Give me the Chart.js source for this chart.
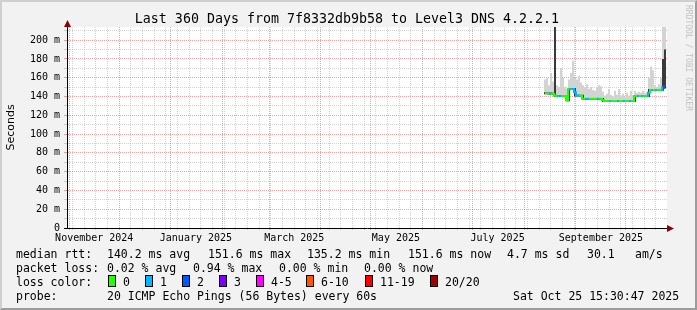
<!DOCTYPE html>
<html>
<head>
<meta charset="utf-8">
<script src="https://cdn.jsdelivr.net/npm/chart.js@4.4.0/dist/chart.umd.min.js"></script>
<style>
  html, body { margin: 0; padding: 0; background: #fff; }
  #graph { position: relative; width: 697px; height: 310px; background: #f2f2f2; overflow: hidden;
           font-family: 'DejaVu Sans Mono', monospace; color: #000; }
  #frame { position: absolute; left: 0; top: 0; width: 697px; height: 310px; box-sizing: border-box;
           border: 2px solid; border-color: #cfcfcf #9c9c9c #9c9c9c #cfcfcf; }
  #graph canvas { position: absolute; left: 0; top: 0; }
  .t { position: absolute; white-space: pre; font-size: 11.5px; line-height: 14px; }
  .box { position: absolute; width: 6px; height: 10px; border: 1px solid #000; }
  #title { position: absolute; left: 0; top: 11px; width: 694px; text-align: center; font-size: 13.3px; line-height: 16px; }
  #mark { position: absolute; left: 683px; top: 5px; writing-mode: vertical-rl; font-size: 8px; line-height: 10px; color: #c2c2c2; }
</style>
</head>
<body>
<div id="graph">
  <div id="frame"></div>
  <canvas id="chart" width="697" height="310"></canvas>
  <div id="title">Last 360 Days from 7f8332db9b58 to Level3 DNS 4.2.2.1</div>
  <div id="mark">RRDTOOL / TOBI OETIKER</div>

  <div class="t" style="left:16px;top:247px">median rtt:</div>
  <div class="t" style="left:107px;top:247px">140.2 ms avg</div>
  <div class="t" style="left:208px;top:247px">151.6 ms max</div>
  <div class="t" style="left:307px;top:247px">135.2 ms min</div>
  <div class="t" style="left:408px;top:247px">151.6 ms now</div>
  <div class="t" style="left:507px;top:247px">4.7 ms sd</div>
  <div class="t" style="left:587px;top:247px">30.1</div>
  <div class="t" style="left:635px;top:247px">am/s</div>

  <div class="t" style="left:16px;top:261px">packet loss:</div>
  <div class="t" style="left:107px;top:261px">0.02 % avg</div>
  <div class="t" style="left:193px;top:261px">0.94 % max</div>
  <div class="t" style="left:279px;top:261px">0.00 % min</div>
  <div class="t" style="left:364px;top:261px">0.00 % now</div>

  <div class="t" style="left:16px;top:275px">loss color:</div>
  <div id="lossKey"></div>

  <div class="t" style="left:16px;top:289px">probe:</div>
  <div class="t" style="left:107px;top:289px">20 ICMP Echo Pings (56 Bytes) every 60s</div>
  <div class="t" style="left:513px;top:289px">Sat Oct 25 15:30:47 2025</div>
</div>

<script>
// ---- time window --------------------------------------------------------
const DAY = 86400000;
const endTime = Date.UTC(2025, 9, 25, 15, 30, 47);   // Sat Oct 25 15:30:47 2025
const spanDays = 360;
const startTime = endTime - spanDays * DAY;

// one consolidated sample every 1.2 days, first one 286.8 days into the window
const sampleStart = 286.8;
const sampleStep = 1.2;

// ---- series (ms) ---------------------------------------------------------
const median = [
  143.5, 143.5, 143.2, 143.2, 143, 141, 140.5, 140.5, 140.5, 140.5,
  140.5, 136, 148, 148, 148, 144.5, 141, 141, 141, 137.5,
  137.5, 137.5, 137.5, 137.5, 137.5, 137.5, 137.5, 137.5, 137.5, 136,
  135.2, 135.2, 135.2, 135.2, 135.2, 135.2, 135.2, 135.2, 135.2, 135.2,
  135.2, 135.2, 135.2, 135.2, 135.2, 140.5, 140.5, 140.5, 140.5, 140.5,
  140.5, 140.5, 144, 147, 147, 147, 147, 147, 147, 149.5,
  151
];
const smokeLo = [
  142.5, 142.5, 142.2, 142.2, 142, 139.5, 139.5, 139.5, 139.5, 139.5,
  139.5, 135, 135, 147, 147, 140, 140, 140, 140, 136.5,
  136.5, 136.5, 136.5, 136.5, 136.5, 136.5, 136.5, 136.5, 136.5, 134.2,
  134.2, 134.2, 134.2, 134.2, 134.2, 134.2, 134.2, 134.2, 134.2, 134.2,
  134.2, 134.2, 134.2, 134.2, 134.2, 134.2, 139.5, 139.5, 139.5, 139.5,
  139.5, 139.5, 139.5, 146, 146, 146, 146, 146, 146, 146,
  148.5
];
// dense (dark) part of the smoke
const darkHi = [
  144.5, 144.5, 144.2, 144.2, 144, 214, 141.5, 141.5, 141.5, 141.5,
  141.5, 141.5, 149, 149, 149, 149, 142, 142, 142, 142,
  138.5, 138.5, 138.5, 138.5, 138.5, 138.5, 138.5, 138.5, 138.5, 138.5,
  136.2, 136.2, 136.2, 136.2, 136.2, 136.2, 136.2, 136.2, 136.2, 136.2,
  136.2, 136.2, 136.2, 136.2, 136.2, 141.5, 141.5, 141.5, 141.5, 141.5,
  141.5, 141.5, 148, 148, 148, 148, 148, 148, 148, 180,
  190
];
// outer (light) smoke
const smokeHi = [
  158, 160, 152, 165, 156, 214, 152, 150, 170, 160,
  150, 148, 158, 165, 178, 160, 158, 162, 155, 152,
  150, 153, 148, 150, 147, 146, 150, 152, 151, 145,
  141, 143, 148, 142, 140, 146, 142, 148, 141, 143,
  140, 144, 141, 146, 140, 146, 144, 145, 144, 146,
  144, 145, 160, 172, 168, 152, 150, 153, 160, 214,
  214
];
// loss class per sample (index into lossColors)
const loss = [
  0, 0, 1, 0, 0, 0, 1, 1, 0, 0,
  0, 0, 1, 1, 1, 1, 1, 0, 0, 0,
  1, 1, 0, 0, 0, 0, 1, 0, 0, 0,
  0, 0, 1, 0, 0, 0, 1, 0, 0, 1,
  0, 0, 1, 0, 0, 0, 1, 0, 1, 0,
  0, 1, 0, 1, 0, 1, 0, 0, 1, 2,
  1
];

const lossLabels = ['0', '1', '2', '3', '4-5', '6-10', '11-19', '20/20'];
const lossColors = ['#26ff00', '#00b8ff', '#0059ff', '#7e00ff', '#ff00ff', '#ff5500', '#ff0000', '#a00000'];
const lossBoxX = [108, 145, 182, 219, 256, 306, 365, 430];

// ---- axes ----------------------------------------------------------------
const monthStarts = [[2024, 10], [2024, 11], [2025, 0], [2025, 1], [2025, 2], [2025, 3],
                     [2025, 4], [2025, 5], [2025, 6], [2025, 7], [2025, 8], [2025, 9]];
const labelMonths = [[2024, 10], [2025, 0], [2025, 2], [2025, 4], [2025, 6], [2025, 8]];
const monthLabels = ['November 2024', 'January 2025', 'March 2025', 'May 2025', 'July 2025', 'September 2025'];
const firstSunday = [2024, 10, 3];
const yTicks = [0, 10, 20, 30, 40, 50, 60, 70, 80, 90, 100, 110, 120, 130, 140, 150, 160, 170, 180, 190, 200, 210];
const yMax = 214;

const GRID = 'rgba(140,140,140,0.38)';
const MGRID = 'rgba(215,40,40,0.42)';
const NONE = 'rgba(0,0,0,0)';

function dayOf(y, m, d) {
  return (Date.UTC(y, m, d) - startTime) / DAY;
}

const xTicks = [];
monthStarts.forEach(([y, m]) => xTicks.push({ value: dayOf(y, m, 1), kind: 'month' }));
for (let d = dayOf(...firstSunday); d < spanDays; d += 7) {
  if (!xTicks.some((t) => Math.abs(t.value - d) < 0.01)) xTicks.push({ value: d, kind: 'week' });
}
labelMonths.forEach(([y, m], i) => xTicks.push({ value: dayOf(y, m, 1) + 15, kind: 'label', text: monthLabels[i] }));
xTicks.sort((a, b) => a.value - b.value);

function xGridColor(c) {
  if (!c.tick) return GRID;
  return c.tick.kind === 'month' ? MGRID : c.tick.kind === 'week' ? GRID : NONE;
}
function yGridColor(c) {
  if (!c.tick) return GRID;
  const v = c.tick.value;
  return v === 0 ? NONE : v % 20 ? GRID : MGRID;
}

// loss colour key in the legend
const key = document.getElementById('lossKey');
lossLabels.forEach((lab, i) => {
  const b = document.createElement('div');
  b.className = 'box';
  b.style.cssText = `left:${lossBoxX[i]}px;top:275px;background:${lossColors[i]}`;
  key.appendChild(b);
  const t = document.createElement('div');
  t.className = 't';
  t.style.cssText = `left:${lossBoxX[i] + 15}px;top:275px`;
  t.textContent = lab;
  key.appendChild(t);
});

// ---- chart ---------------------------------------------------------------
const xs = median.map((_, i) => sampleStart + i * sampleStep);
const range = (lo, hi) => xs.map((x, i) => ({ x, y: [lo[i], hi[i]] }));

// white plot canvas + the rrdtool style axis arrows
const rrdFrame = {
  id: 'rrdFrame',
  beforeDraw(chart) {
    const { ctx, chartArea: a } = chart;
    ctx.save();
    ctx.fillStyle = '#fff';
    ctx.fillRect(a.left, a.top, a.right - a.left, a.bottom - a.top);
    ctx.restore();
  },
  afterDraw(chart) {
    const { ctx, chartArea: a } = chart;
    const x0 = a.left + 0.5;
    const y0 = a.bottom + 0.5;
    ctx.save();
    ctx.strokeStyle = '#000';
    ctx.lineWidth = 1;
    ctx.beginPath();
    ctx.moveTo(x0, a.top);
    ctx.lineTo(x0, a.top - 3);
    ctx.moveTo(a.right, y0);
    ctx.lineTo(a.right + 2, y0);
    ctx.stroke();
    ctx.fillStyle = '#8b0000';
    ctx.beginPath();
    ctx.moveTo(x0, a.top - 7);
    ctx.lineTo(x0 - 3.5, a.top);
    ctx.lineTo(x0 + 3.5, a.top);
    ctx.closePath();
    ctx.fill();
    ctx.beginPath();
    ctx.moveTo(a.right + 7, y0);
    ctx.lineTo(a.right, y0 - 3.5);
    ctx.lineTo(a.right, y0 + 3.5);
    ctx.closePath();
    ctx.fill();
    ctx.restore();
  },
};

Chart.defaults.font.family = "'DejaVu Sans Mono', monospace";
Chart.defaults.font.size = 10;
Chart.defaults.color = '#000';

new Chart(document.getElementById('chart'), {
  type: 'line',
  data: {
    datasets: [
      {
        type: 'bar',
        data: range(smokeLo, smokeHi),
        backgroundColor: '#d3d3d3',
        barThickness: 2,
        grouped: false,
        borderWidth: 0,
        inflateAmount: 0,
        order: 3,
      },
      {
        type: 'bar',
        data: range(smokeLo, darkHi),
        backgroundColor: '#3a3a3a',
        barThickness: 2,
        grouped: false,
        borderWidth: 0,
        inflateAmount: 0,
        order: 2,
      },
      {
        type: 'line',
        data: xs.map((x, i) => ({ x, y: median[i] })),
        borderColor: lossColors[0],
        borderWidth: 2,
        pointRadius: 0,
        stepped: 'middle',
        segment: { borderColor: (c) => lossColors[loss[c.p0DataIndex]] },
        order: 1,
      },
    ],
  },
  options: {
    animation: false,
    responsive: false,
    devicePixelRatio: 1,
    layout: { padding: { left: 0, top: 27, right: 30, bottom: 62 } },
    plugins: { legend: { display: false }, tooltip: { enabled: false }, title: { display: false } },
    scales: {
      x: {
        type: 'linear',
        min: 0,
        max: spanDays,
        offset: false,
        afterBuildTicks: (s) => { s.ticks = xTicks; },
        afterFit: (s) => { s.height = 20; },
        grid: { offset: false, color: xGridColor, tickColor: xGridColor, tickLength: 2, lineWidth: 1 },
        border: { color: '#000', width: 1, dash: [1, 1] },
        ticks: {
          autoSkip: false,
          maxRotation: 0,
          padding: 2,
          callback: (v, i, t) => t[i].text || '',
        },
      },
      y: {
        min: 0,
        max: yMax,
        afterBuildTicks: (s) => { s.ticks = yTicks.map((v) => ({ value: v })); },
        afterFit: (s) => { s.width = 67; },
        grid: {
          color: yGridColor,
          tickColor: (c) => (c.tick && c.tick.value === 0 ? '#000' : yGridColor(c)),
          tickLength: 3,
          lineWidth: 1,
        },
        border: { color: '#000', width: 1, dash: [1, 1] },
        ticks: {
          autoSkip: false,
          padding: 4,
          callback: (v) => (v === 0 ? '0' : v % 20 ? '' : v + ' m'),
        },
        title: {
          display: true,
          text: 'Seconds',
          font: { family: "'DejaVu Sans', sans-serif", size: 11 },
          padding: { top: 5, bottom: 0 },
        },
      },
    },
  },
  plugins: [rrdFrame],
});
</script>
</body>
</html>
